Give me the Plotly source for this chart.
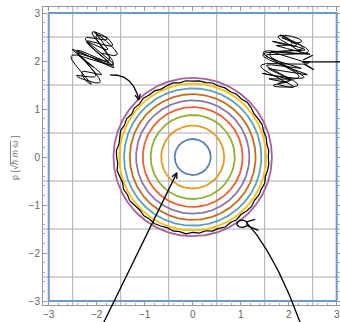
import numpy as np
import plotly.graph_objects as go

# ---------------- data ----------------
contour_radii = [0.375, 0.656, 0.875, 1.04, 1.18, 1.31, 1.43, 1.53, 1.65]
contour_colors = ["#5E81B5", "#E19C24", "#8FB032", "#EB6235", "#8778B3",
                  "#C56E1A", "#5D9EC7", "#FFBF00", "#A5609D"]
# jagged black boundary: radius read every 5 degrees, counter-clockwise from +x
boundary_radii = [1.575, 1.590, 1.568, 1.585, 1.572, 1.598, 1.580, 1.565, 1.592, 1.610,
                  1.578, 1.595, 1.570, 1.588, 1.575, 1.596, 1.572, 1.590, 1.582, 1.595,
                  1.570, 1.598, 1.578, 1.560, 1.590, 1.575, 1.600, 1.565, 1.585, 1.555,
                  1.590, 1.570, 1.600, 1.580, 1.560, 1.595, 1.585, 1.568, 1.600, 1.575,
                  1.555, 1.590, 1.570, 1.598, 1.580, 1.560, 1.592, 1.575, 1.600, 1.585,
                  1.565, 1.595, 1.578, 1.605, 1.570, 1.590, 1.560, 1.598, 1.582, 1.610,
                  1.575, 1.595, 1.565, 1.588, 1.602, 1.570, 1.590, 1.578, 1.596, 1.568,
                  1.585, 1.592]
tick_values = [-3, -2, -1, 0, 1, 2, 3]
tick_labels = ["\u22123", "\u22122", "\u22121", "0", "1", "2", "3"]
grid_values = [-2.5, -1.5, -0.5, 0.5, 1.5, 2.5]
frame_extent = 3
y_label = "p [\u221a<span style='text-decoration:overline'><i>\u0127 m \u03c9</i></span> ]"

# ---------------- layout geometry ----------------
W, H = 340, 322
x_range = [-3.119, 3.069]
y_range = [-3.083, 3.125]
x_dom = [43 / W, 1.0]
y_dom = [17 / H, 315 / H]


def full_range(r, dom):
    span = (r[1] - r[0]) / (dom[1] - dom[0])
    return [r[0] - dom[0] * span, r[1] + (1 - dom[1]) * span]


x2_range = full_range(x_range, x_dom)
y2_range = full_range(y_range, y_dom)

fig = go.Figure()

theta = np.linspace(0, 2 * np.pi, 361)
for r, c in zip(contour_radii, contour_colors):
    fig.add_trace(go.Scatter(x=r * np.cos(theta), y=r * np.sin(theta), mode="lines",
                             line=dict(color=c, width=1.8), hoverinfo="skip",
                             showlegend=False))

ang = np.deg2rad(np.arange(len(boundary_radii)) * 360 / len(boundary_radii))
br = np.array(boundary_radii + boundary_radii[:1])
ang = np.append(ang, 2 * np.pi)
fig.add_trace(go.Scatter(x=br * np.cos(ang), y=br * np.sin(ang), mode="lines",
                         line=dict(color="black", width=1.2), hoverinfo="skip",
                         showlegend=False))

# ---------------- hand-drawn annotations (overlay axes) ----------------


def scribble(cx, cy, rx, ry, turns, angle, phase, loops):
    t = np.linspace(0, 1, 1500)
    sweep = np.sin(2 * np.pi * 2.5 * t + phase)
    env = 0.2 + 0.8 * np.sqrt(np.clip(1 - sweep ** 2, 0, 1))
    fast = np.sin(2 * np.pi * turns * t)
    lx = 0.2 * np.cos(2 * np.pi * loops * t)
    ly = 0.2 * np.sin(2 * np.pi * loops * t)
    u = fast * env + lx
    v = sweep + ly
    ca, sa = np.cos(angle), np.sin(angle)
    return cx + rx * (u * ca - v * sa), cy + ry * (u * sa + v * ca)


def bezier(p0, p1, p2, n=60):
    t = np.linspace(0, 1, n)[:, None]
    p = (1 - t) ** 2 * np.array(p0) + 2 * (1 - t) * t * np.array(p1) + t ** 2 * np.array(p2)
    return p[:, 0], p[:, 1]


def vhead(tip, frm, size=0.13, spread=0.45):
    d = np.array(tip) - np.array(frm)
    d = d / np.hypot(*d)
    xs, ys = [], []
    for s in (spread, -spread):
        c, sn = np.cos(s), np.sin(s)
        b = np.array([-(d[0] * c - d[1] * sn), -(d[0] * sn + d[1] * c)])
        xs += [tip[0] + size * b[0], tip[0], None]
        ys += [tip[1] + size * b[1], tip[1], None]
    return xs, ys


def ink(x, y, w=1.3):
    fig.add_trace(go.Scatter(x=list(x), y=list(y), mode="lines", xaxis="x2", yaxis="y2",
                             line=dict(color="black", width=w), hoverinfo="skip",
                             showlegend=False))


# top-left scribble and curved arrow
sx, sy = scribble(-2.06, 2.06, 0.40, 0.44, 13, np.deg2rad(-30), 0.4, 7)
ink(sx, sy, 1.0)
bx, by = bezier((-1.72, 1.71), (-1.25, 1.74), (-1.12, 1.19))
ink(bx, by)
hx, hy = vhead((-1.12, 1.19), (-1.17, 1.40))
ink(hx, hy)

# top-right scribble with line to the right
sx, sy = scribble(1.93, 1.98, 0.44, 0.46, 17, np.deg2rad(-12), 1.1, 9)
ink(sx, sy, 1.0)
ink([2.30, 3.2], [1.98, 1.98])
ink([2.30, 2.50, None, 2.32, 2.52, None, 2.28, 2.45],
    [2.02, 2.12, None, 1.94, 1.82, None, 1.98, 1.98])

# bottom-left straight arrow into the inner circle
ink([-1.88, -0.33], [-3.5, -0.33])
hx, hy = vhead((-0.33, -0.33), (-0.6, -0.88))
ink(hx, hy)

# bottom-right curl with long curve
tt = np.linspace(0, 2 * np.pi, 60)
ink(1.03 + 0.11 * np.cos(tt), -1.39 + 0.075 * np.sin(tt))
ink([1.13, 1.37, None, 1.12, 1.30], [-1.43, -1.53, None, -1.35, -1.30])
cx_, cy_ = bezier((1.12, -1.36), (1.72, -2.02), (2.26, -3.5))
ink(cx_, cy_)

# ---------------- shapes: grid and frame ----------------
shapes = []
for g in grid_values:
    shapes.append(dict(type="line", xref="x", yref="y domain", x0=g, x1=g, y0=0, y1=1,
                       line=dict(color="#aaaaaa", width=1), layer="below"))
    shapes.append(dict(type="line", xref="x domain", yref="y", x0=0, x1=1, y0=g, y1=g,
                       line=dict(color="#aaaaaa", width=1), layer="below"))
shapes.append(dict(type="rect", xref="x", yref="y", x0=-frame_extent, x1=frame_extent,
                   y0=-frame_extent, y1=frame_extent,
                   line=dict(color="#7097CE", width=2), layer="below"))

axis_common = dict(tickmode="array", tickvals=tick_values, ticktext=tick_labels,
                   ticks="inside", ticklen=4, tickwidth=1, tickcolor="#999999",
                   showline=True, linecolor="#999999", linewidth=1, mirror="ticks",
                   showgrid=False, zeroline=False, automargin=False,
                   tickfont=dict(family="Liberation Sans", size=10, color="#666666"),
                   minor=dict(tickmode="linear", tick0=0, dtick=0.2, ticks="inside",
                              ticklen=2, tickcolor="#aaaaaa", showgrid=False))

fig.update_layout(
    width=W, height=H, template="none",
    margin=dict(l=0, r=0, t=0, b=0, pad=0),
    paper_bgcolor="white", plot_bgcolor="rgba(0,0,0,0)",
    showlegend=False,
    xaxis=dict(domain=x_dom, range=x_range, anchor="y", **axis_common),
    yaxis=dict(domain=y_dom, range=y_range, anchor="x", **axis_common),
    xaxis2=dict(domain=[0, 1], range=x2_range, anchor="y2", visible=False, fixedrange=True),
    yaxis2=dict(domain=[0, 1], range=y2_range, anchor="x2", visible=False, fixedrange=True),
    shapes=shapes,
    annotations=[dict(text=y_label, textangle=-90, xref="paper", yref="paper",
                      x=15 / W, y=1 - 158 / H, xanchor="center", yanchor="middle",
                      showarrow=False,
                      font=dict(family="Liberation Sans", size=9, color="#777777"))],
)

fig.write_html("out.html", config={"displayModeBar": False},
               post_script="document.body.style.margin='0px';")
